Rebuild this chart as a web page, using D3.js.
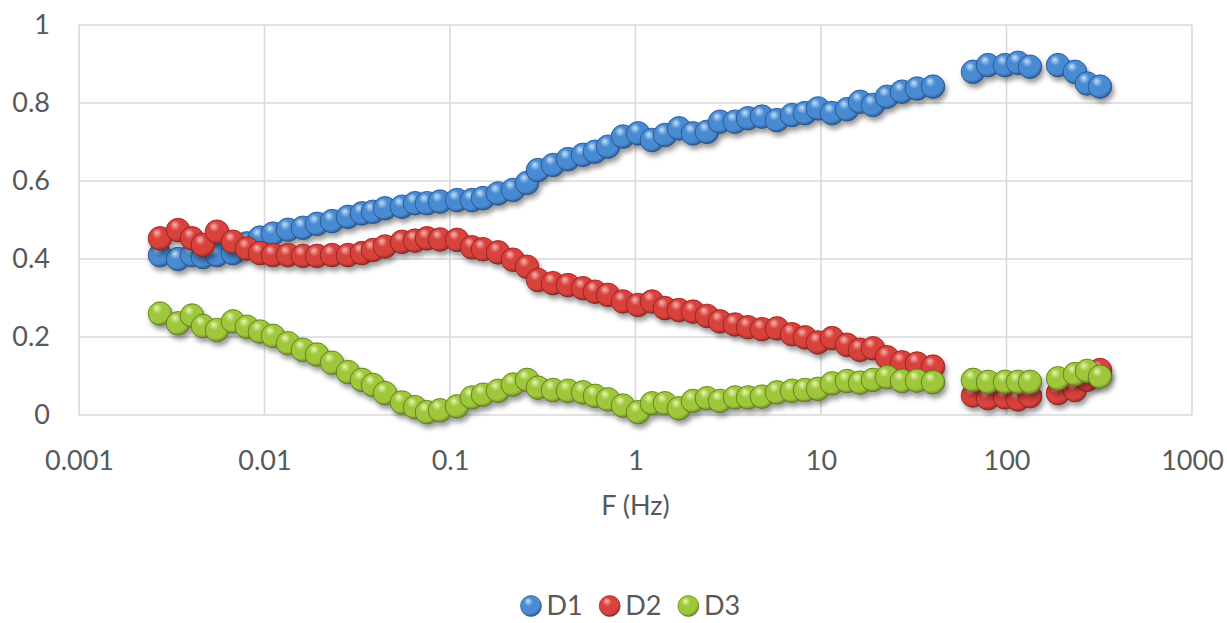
<!DOCTYPE html>
<html>
<head>
<meta charset="utf-8">
<script src="https://cdn.jsdelivr.net/npm/d3@7/dist/d3.min.js"></script>
<style>
  html, body { margin: 0; padding: 0; background: #ffffff; }
  svg { display: block; font-family: Lato, "Open Sans", sans-serif; }
</style>
</head>
<body>
<svg id="chart" width="1227" height="623"></svg>
<script>
// ---- Data ----
const freqs = [0.002733, 0.003418, 0.004066, 0.004661, 0.005544, 0.006763, 0.008044, 0.009456, 0.01111, 0.01339,
  0.01612, 0.01919, 0.02312, 0.02819, 0.03354, 0.03845, 0.04462, 0.05510, 0.06477, 0.07516,
  0.08834, 0.1091, 0.1314, 0.1506, 0.1815, 0.2186, 0.2602, 0.2981, 0.3592, 0.4326,
  0.5212, 0.6049, 0.7108, 0.8562, 1.032, 1.227, 1.442, 1.716, 2.042, 2.429,
  2.855, 3.439, 4.042, 4.808, 5.791, 6.977, 8.200, 9.634, 11.47, 13.81,
  16.23, 19.07, 22.69, 27.33, 32.92, 40.17,
  65.97, 79.49, 98.15, 115.3, 133.9, 189.5, 234.0, 271.6, 319.2];

const D1 = [0.41, 0.40, 0.41, 0.405, 0.41, 0.415, 0.44, 0.455, 0.465, 0.475,
  0.48, 0.49, 0.497, 0.508, 0.517, 0.521, 0.53, 0.534, 0.543, 0.543,
  0.547, 0.551, 0.551, 0.556, 0.568, 0.577, 0.595, 0.628, 0.641, 0.656,
  0.667, 0.675, 0.688, 0.714, 0.722, 0.705, 0.718, 0.735, 0.722, 0.726,
  0.752, 0.752, 0.761, 0.765, 0.756, 0.769, 0.774, 0.786, 0.774, 0.784,
  0.803, 0.795, 0.816, 0.829, 0.837, 0.842,
  0.88, 0.897, 0.897, 0.903, 0.893, 0.897, 0.88, 0.85, 0.842];

const D2 = [0.453, 0.474, 0.453, 0.436, 0.47, 0.444, 0.427, 0.415, 0.41, 0.41,
  0.408, 0.408, 0.41, 0.41, 0.415, 0.423, 0.432, 0.444, 0.447, 0.453,
  0.45, 0.449, 0.43, 0.425, 0.417, 0.398, 0.38, 0.346, 0.338, 0.333,
  0.325, 0.316, 0.308, 0.291, 0.282, 0.291, 0.274, 0.269, 0.265, 0.254,
  0.24, 0.232, 0.225, 0.22, 0.222, 0.207, 0.199, 0.186, 0.197, 0.18,
  0.167, 0.171, 0.148, 0.135, 0.132, 0.124,
  0.05, 0.043, 0.045, 0.04, 0.048, 0.056, 0.064, 0.09, 0.115];

const D3 = [0.26, 0.235, 0.255, 0.228, 0.218, 0.24, 0.226, 0.214, 0.203, 0.184,
  0.167, 0.155, 0.134, 0.11, 0.09, 0.077, 0.056, 0.032, 0.02, 0.007,
  0.012, 0.022, 0.045, 0.052, 0.062, 0.078, 0.09, 0.07, 0.064, 0.062,
  0.058, 0.049, 0.04, 0.024, 0.007, 0.03, 0.03, 0.017, 0.036, 0.043,
  0.036, 0.045, 0.045, 0.047, 0.058, 0.062, 0.064, 0.067, 0.081, 0.087,
  0.083, 0.09, 0.097, 0.087, 0.088, 0.084,
  0.09, 0.085, 0.085, 0.085, 0.085, 0.094, 0.105, 0.113, 0.098];

const seriesNames = ["D1", "D2", "D3"];
const xTicks = [0.001, 0.01, 0.1, 1, 10, 100, 1000];
const xTickLabels = ["0.001", "0.01", "0.1", "1", "10", "100", "1000"];
const yTicks = [0, 0.2, 0.4, 0.6, 0.8, 1];
const yTickLabels = ["0", "0.2", "0.4", "0.6", "0.8", "1"];
const xTitle = "F (Hz)";

// ---- Styles ----
const palette = {
  D1: { hi: "#c4e0fa", mid: "#4a8bd3", dark: "#2a5f9f", rim: "#224c82" },
  D2: { hi: "#f8b6b3", mid: "#d8423d", dark: "#a52a26", rim: "#84201c" },
  D3: { hi: "#e6f5b5", mid: "#9fc73a", dark: "#6d9024", rim: "#55711a" }
};
const textColor = "#595959";
const gridColor = "#d9d9d9";
const fontSize = 27;
const R = 11.8;

const svg = d3.select("#chart");
const x = d3.scaleLog().domain([0.001, 1000]).range([79, 1192]);
const y = d3.scaleLinear().domain([0, 1]).range([415, 25]);

// ---- Defs: gradients + shadow ----
const defs = svg.append("defs");
seriesNames.forEach(name => {
  const c = palette[name];
  const g = defs.append("radialGradient")
    .attr("id", "grad-" + name)
    .attr("cx", "42%").attr("cy", "38%").attr("r", "62%")
    .attr("fx", "36%").attr("fy", "26%");
  g.append("stop").attr("offset", "0%").attr("stop-color", c.hi);
  g.append("stop").attr("offset", "35%").attr("stop-color", c.mid);
  g.append("stop").attr("offset", "80%").attr("stop-color", c.mid);
  g.append("stop").attr("offset", "100%").attr("stop-color", c.dark);
});
const f = defs.append("filter").attr("id", "shadow")
  .attr("x", "-50%").attr("y", "-50%").attr("width", "200%").attr("height", "200%");
f.append("feDropShadow").attr("dx", 2).attr("dy", 4).attr("stdDeviation", 2.5)
  .attr("flood-color", "#000").attr("flood-opacity", 0.4);

// ---- Grid ----
const grid = svg.append("g");
grid.selectAll("line.v").data(xTicks).join("line")
  .attr("x1", d => x(d)).attr("x2", d => x(d))
  .attr("y1", y(0)).attr("y2", y(1))
  .attr("stroke", gridColor).attr("stroke-width", 1.6);
grid.selectAll("line.h").data(yTicks).join("line")
  .attr("x1", x(0.001)).attr("x2", x(1000))
  .attr("y1", d => y(d)).attr("y2", d => y(d))
  .attr("stroke", gridColor).attr("stroke-width", 1.6);

// ---- Axes ----
const xAxis = d3.axisBottom(x).tickValues(xTicks)
  .tickFormat((d, i) => xTickLabels[i]).tickSize(0).tickPadding(36);
const gx = svg.append("g").attr("transform", `translate(0,${y(0)})`).call(xAxis);
gx.select(".domain").remove();
gx.selectAll("text").attr("fill", textColor).style("font-size", fontSize + "px")
  .style("font-family", "Lato, 'Open Sans', sans-serif");

const yAxis = d3.axisLeft(y).tickValues(yTicks)
  .tickFormat((d, i) => yTickLabels[i]).tickSize(0).tickPadding(29);
const gy = svg.append("g").attr("transform", `translate(${x(0.001)},0)`).call(yAxis);
gy.select(".domain").remove();
gy.selectAll("text").attr("fill", textColor).style("font-size", fontSize + "px")
  .style("font-family", "Lato, 'Open Sans', sans-serif");

// axis title
svg.append("text")
  .attr("x", (x(0.001) + x(1000)) / 2).attr("y", 515)
  .attr("text-anchor", "middle")
  .attr("fill", textColor).style("font-size", fontSize + "px")
  .text(xTitle);

// ---- Points ----
const seriesData = { D1, D2, D3 };
seriesNames.forEach(name => {
  const pts = freqs.map((fv, i) => ({ f: fv, v: seriesData[name][i] }));
  svg.append("g").attr("filter", "url(#shadow)")
    .selectAll("circle").data(pts).join("circle")
    .attr("cx", d => x(d.f)).attr("cy", d => y(d.v)).attr("r", R)
    .attr("fill", `url(#grad-${name})`)
    .attr("stroke", palette[name].rim).attr("stroke-width", 0.8);
});

// ---- Legend ----
const legend = svg.append("g").attr("transform", "translate(531,606)");
const items = legend.selectAll("g").data(seriesNames).join("g")
  .attr("transform", (d, i) => `translate(${i * 78.7},0)`);
items.append("circle").attr("r", 10.5)
  .attr("fill", d => `url(#grad-${d})`)
  .attr("stroke", d => palette[d].rim).attr("stroke-width", 0.6);
items.append("text").attr("x", 15.5).attr("y", 9)
  .attr("fill", textColor).style("font-size", fontSize + "px")
  .text(d => d);
</script>
</body>
</html>
